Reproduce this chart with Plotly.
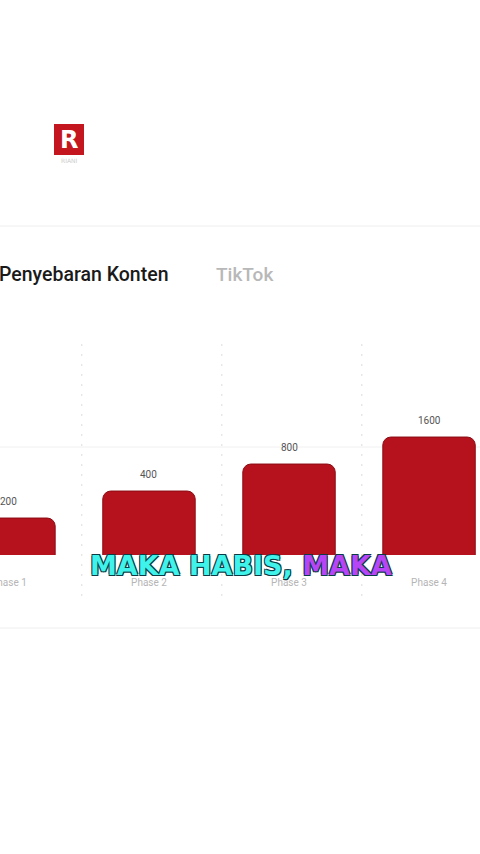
import plotly.graph_objects as go
import numpy as np

categories = ["Phase 1", "Phase 2", "Phase 3", "Phase 4"]
values = [200, 400, 800, 1600]
title_text = "Penyebaran Konten"
tab_text = "TikTok"
caption_a = "MAKA HABIS,"
caption_b = "MAKA"

W, H = 480, 854
TOP, BOT = 340, 555  # plot area pixel bounds


def py(p):
    return (BOT - p) / (BOT - TOP)


def px(p):
    return p / W


fig = go.Figure()
fig.add_trace(go.Bar(
    x=categories, y=values,
    marker=dict(color="#b5121d", line=dict(color="#8a0d14", width=1)),
    width=0.66,
    hoverinfo="skip",
))

annotations = []
for c, v in zip(categories, values):
    annotations.append(dict(x=c, y=np.log10(v), xref="x", yref="y", text=str(v),
                            showarrow=False, yshift=17,
                            font=dict(family="Roboto", size=10, color="#555555")))

annotations += [
    dict(x=px(0), y=py(274), xref="paper", yref="paper", xanchor="left", yanchor="middle",
         text=title_text, showarrow=False, xshift=-3,
         font=dict(family="Roboto", size=19.5, color="#1a1a1a", weight=500)),
    dict(x=px(214), y=py(274), xref="paper", yref="paper", xanchor="left", yanchor="middle",
         text=tab_text, showarrow=False,
         font=dict(family="Roboto", size=19, color="#b8b8b8", weight=500)),
    dict(x=px(69), y=py(139.5), xref="paper", yref="paper", xanchor="center", yanchor="middle",
         text="R", showarrow=False,
         font=dict(family="DejaVu Sans", size=24, color="white", weight="bold")),
    dict(x=px(69), y=py(160), xref="paper", yref="paper", xanchor="center", yanchor="middle",
         text="RIANI", showarrow=False,
         font=dict(family="DejaVu Sans", size=6, color="#cccccc")),
    dict(x=px(241), y=py(565), xref="paper", yref="paper", xanchor="center", yanchor="middle",
         text=f"<span style='color:#3ff2ea'>{caption_a}</span> <span style='color:#b845f5'>{caption_b}</span>",
         showarrow=False,
         font=dict(family="DejaVu Sans", size=27, weight="bold",
                   shadow="1px 1px 0 #0b3b44, -1px -1px 0 #0b3b44, 1px -1px 0 #0b3b44, -1px 1px 0 #0b3b44")),
]

shapes = [
    dict(type="rect", xref="paper", yref="paper", x0=px(54), x1=px(84), y0=py(155), y1=py(124),
         fillcolor="#c4161e", line=dict(width=0), layer="below"),
    dict(type="line", xref="paper", yref="paper", x0=0, x1=1, y0=py(226), y1=py(226),
         line=dict(color="#eeeeee", width=1)),
    dict(type="line", xref="paper", yref="paper", x0=0, x1=1, y0=py(628), y1=py(628),
         line=dict(color="#eeeeee", width=1)),
    dict(type="line", xref="paper", yref="paper", x0=0, x1=1, y0=py(447), y1=py(447),
         line=dict(color="#f0f0f0", width=1), layer="below"),
]
for i in range(len(categories) - 1):
    shapes.append(dict(type="line", xref="x", yref="paper", x0=i + 0.52, x1=i + 0.52,
                       y0=py(596), y1=1, line=dict(color="#dddddd", width=1, dash="2px,8px"),
                       layer="below"))

fig.update_layout(
    width=W, height=H,
    margin=dict(l=0, r=0, t=TOP, b=H - BOT, pad=0, autoexpand=False),
    paper_bgcolor="white", plot_bgcolor="white",
    showlegend=False,
    barcornerradius=8,
    xaxis=dict(range=[-0.064, 3.364], showgrid=False, zeroline=False, showline=False,
               ticks="", ticklabelstandoff=20, automargin=False,
               tickfont=dict(family="Roboto", size=10, color="#b5b5b5")),
    yaxis=dict(type="log", range=[1.889, 4.286], showgrid=False, zeroline=False,
               showline=False, showticklabels=False, ticks="", automargin=False),
    annotations=annotations,
    shapes=shapes,
)

fig.write_html("out.html", config={"displayModeBar": False},
               post_script="document.body.style.margin='0';document.body.style.overflow='hidden';")
